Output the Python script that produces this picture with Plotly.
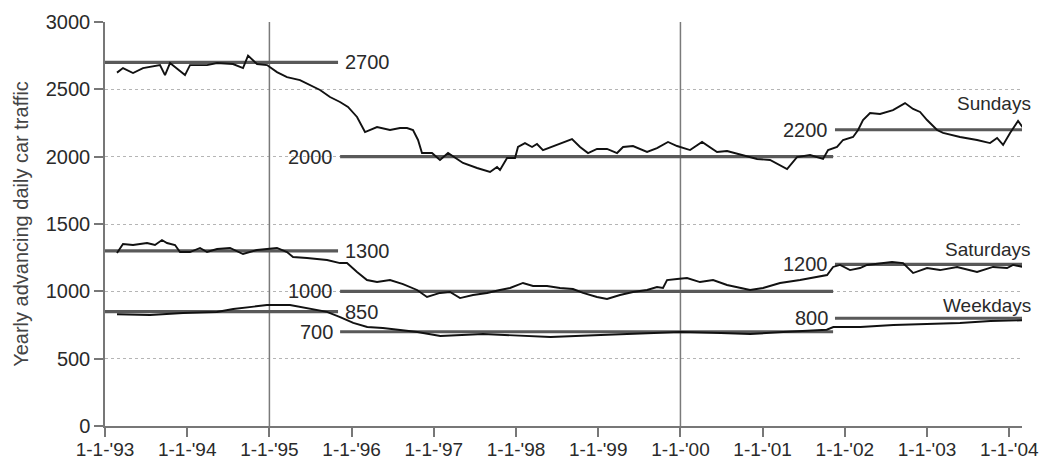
import plotly.graph_objects as go

# ---------------- data (x in decimal years) ----------------
sun_t = [1993.146, 1993.219, 1993.341, 1993.462, 1993.669, 1993.730, 1993.791, 1993.973, 1994.034,
         1994.241, 1994.363, 1994.557, 1994.679, 1994.740, 1994.849, 1994.971, 1995.092, 1995.214,
         1995.372, 1995.530, 1995.616, 1995.737, 1995.859, 1995.956, 1996.066, 1996.163, 1996.309,
         1996.467, 1996.589, 1996.674, 1996.747, 1996.808, 1996.856, 1996.978, 1997.075, 1997.173,
         1997.258, 1997.355, 1997.526, 1997.684, 1997.769, 1997.805, 1997.891, 1997.988, 1998.024,
         1998.109, 1998.195, 1998.255, 1998.328, 1998.499, 1998.681, 1998.779, 1998.876, 1998.985,
         1999.107, 1999.229, 1999.302, 1999.423, 1999.594, 1999.715, 1999.849, 1999.959, 2000.117,
         2000.263, 2000.360, 2000.445, 2000.567, 2000.762, 2000.932, 2001.090, 2001.212, 2001.297,
         2001.418, 2001.577, 2001.735, 2001.796, 2001.905, 2001.978, 2002.100, 2002.161, 2002.221,
         2002.307, 2002.428, 2002.586, 2002.732, 2002.830, 2002.915, 2003.000, 2003.122, 2003.195,
         2003.401, 2003.608, 2003.766, 2003.852, 2003.925, 2004.010, 2004.107, 2004.168]
sun_v = [2624, 2658, 2621, 2658, 2680, 2606, 2695, 2606, 2680,
         2680, 2695, 2688, 2658, 2750, 2688, 2680, 2628, 2591,
         2569, 2517, 2495, 2443, 2406, 2369, 2295, 2183, 2220,
         2198, 2213, 2213, 2198, 2124, 2027, 2027, 1975, 2027,
         1990, 1953, 1916, 1886, 1923, 1901, 1990, 1990, 2072,
         2101, 2072, 2094, 2049, 2087, 2131, 2072, 2027, 2057,
         2057, 2027, 2072, 2079, 2035, 2064, 2109, 2079, 2049,
         2109, 2072, 2035, 2042, 2012, 1983, 1975, 1938, 1908,
         1997, 2012, 1983, 2049, 2072, 2124, 2146, 2198, 2272,
         2324, 2317, 2346, 2398, 2354, 2332, 2272, 2198, 2176,
         2146, 2124, 2101, 2139, 2087, 2176, 2265, 2213]

sat_t = [1993.146, 1993.219, 1993.341, 1993.511, 1993.608, 1993.693, 1993.754, 1993.852, 1993.912,
         1994.034, 1994.156, 1994.241, 1994.363, 1994.521, 1994.679, 1994.849, 1994.971, 1995.092,
         1995.214, 1995.287, 1995.457, 1995.701, 1995.859, 1995.944, 1996.066, 1996.187, 1996.309,
         1996.467, 1996.625, 1996.796, 1996.917, 1997.075, 1997.197, 1997.319, 1997.477, 1997.647,
         1997.805, 1997.927, 1998.085, 1998.207, 1998.377, 1998.535, 1998.693, 1998.815, 1998.985,
         1999.107, 1999.265, 1999.423, 1999.594, 1999.715, 1999.788, 1999.837, 1999.959, 2000.080,
         2000.238, 2000.397, 2000.567, 2000.725, 2000.847, 2001.005, 2001.212, 2001.455, 2001.784,
         2001.857, 2001.942, 2002.063, 2002.185, 2002.270, 2002.428, 2002.574, 2002.708, 2002.830,
         2003.000, 2003.158, 2003.365, 2003.608, 2003.803, 2003.973, 2004.046, 2004.168]
sat_v = [1285, 1351, 1344, 1359, 1344, 1381, 1359, 1344, 1292,
         1292, 1322, 1292, 1314, 1322, 1277, 1307, 1314, 1322,
         1292, 1255, 1247, 1233, 1210, 1210, 1144, 1084, 1069,
         1084, 1054, 1010, 958, 988, 995, 950, 973, 988,
         1010, 1025, 1062, 1040, 1040, 1025, 1017, 988, 958,
         943, 973, 995, 1010, 1032, 1025, 1084, 1092, 1099,
         1069, 1084, 1047, 1025, 1010, 1025, 1062, 1084, 1121,
         1181, 1196, 1158, 1173, 1196, 1210, 1218, 1210, 1136,
         1173, 1158, 1181, 1144, 1181, 1173, 1196, 1181]

wk_t = [1993.146, 1993.547, 1993.950, 1994.360, 1994.560, 1994.760, 1994.970, 1995.250, 1995.460,
        1995.700, 1995.860, 1996.020, 1996.190, 1996.380, 1996.800, 1997.080, 1997.600, 1998.420,
        1999.030, 1999.640, 2000.000, 2000.490, 2000.850, 2001.250, 2001.780, 2001.860, 2002.190,
        2002.590, 2002.980, 2003.400, 2003.770, 2004.168]
wk_v = [830, 824, 839, 847, 869, 884, 898, 898, 876,
        847, 809, 765, 735, 728, 698, 668, 683, 661,
        676, 691, 698, 691, 683, 698, 715, 735, 735,
        750, 758, 765, 780, 785]

# reference levels with their spans and label side
ref_levels = [2700, 2000, 2200, 1300, 1000, 1200, 850, 700, 800]
ref_start = [1993.0, 1995.86, 2001.88, 1993.0, 1995.86, 2001.88, 1993.0, 1995.86, 2001.88]
ref_end = [1995.835, 2001.857, 2004.2, 1995.835, 2001.857, 2004.2, 1995.835, 2001.857, 2004.2]
ref_side = ["right", "left", "left", "right", "left", "left", "right", "left", "left"]

series_names = ["Sundays", "Saturdays", "Weekdays"]
series_label_y = [2398, 1307, 898]

year_ticks = list(range(1993, 2005))
year_labels = ["1-1-'93", "1-1-'94", "1-1-'95", "1-1-'96", "1-1-'97", "1-1-'98",
               "1-1-'99", "1-1-'00", "1-1-'01", "1-1-'02", "1-1-'03", "1-1-'04"]
marker_years = [1995, 2000]
y_ticks = [0, 500, 1000, 1500, 2000, 2500, 3000]

# ---------------- figure ----------------
FONT = "Liberation Sans, Arial, sans-serif"
TXT = "#2a2a2a"
fig = go.Figure()

for yr in marker_years:
    fig.add_trace(go.Scatter(x=[yr, yr], y=[0, 3000], mode="lines",
                             line=dict(color="#7a7a7a", width=1.5), hoverinfo="skip", showlegend=False))

for lv, s, e in zip(ref_levels, ref_start, ref_end):
    fig.add_trace(go.Scatter(x=[s, e], y=[lv, lv], mode="lines",
                             line=dict(color="#595959", width=3.2), hoverinfo="skip", showlegend=False))

for t, v in [(sun_t, sun_v), (sat_t, sat_v), (wk_t, wk_v)]:
    fig.add_trace(go.Scatter(x=t, y=v, mode="lines", line=dict(color="#111111", width=1.9),
                             showlegend=False))

for lv, s, e, side in zip(ref_levels, ref_start, ref_end, ref_side):
    if side == "right":
        fig.add_annotation(x=e, y=lv, xref="x", yref="y", text=str(lv), showarrow=False,
                           xanchor="left", xshift=5, font=dict(size=20, color=TXT, family=FONT))
    else:
        fig.add_annotation(x=s, y=lv, xref="x", yref="y", text=str(lv), showarrow=False,
                           xanchor="right", xshift=-5, font=dict(size=20, color=TXT, family=FONT))

for name, yv in zip(series_names, series_label_y):
    fig.add_annotation(x=1.0125, y=yv, xref="paper", yref="y", text=name, showarrow=False,
                       xanchor="right", font=dict(size=19, color=TXT, family=FONT))

fig.update_layout(
    width=1043, height=461,
    margin=dict(l=105, r=21, t=22, b=35),
    plot_bgcolor="white", paper_bgcolor="white",
    font=dict(family=FONT, color=TXT),
)
fig.update_xaxes(range=[1993, 2004.155], tickmode="array", tickvals=year_ticks, ticktext=year_labels,
                 ticks="outside", ticklen=9, tickwidth=1.5, tickcolor="#777", showline=True,
                 linecolor="#777", linewidth=1.5, showgrid=False, zeroline=False, automargin=False,
                 ticklabelstandoff=-4,
                 tickfont=dict(size=19, color=TXT, family=FONT))
fig.update_yaxes(range=[0, 3000], tickmode="array", tickvals=y_ticks, ticks="outside", ticklen=9,
                 tickwidth=1.5, tickcolor="#777", showline=True, linecolor="#777", linewidth=1.5,
                 showgrid=True, gridcolor="#b5b5b5", griddash="dot", gridwidth=1, zeroline=False,
                 automargin=False,
                 tickfont=dict(size=20, color=TXT, family=FONT),
                 title=dict(text="Yearly advancing daily car traffic", standoff=12,
                            font=dict(size=20, color="#444", family=FONT)))

fig.write_html("out.html")
